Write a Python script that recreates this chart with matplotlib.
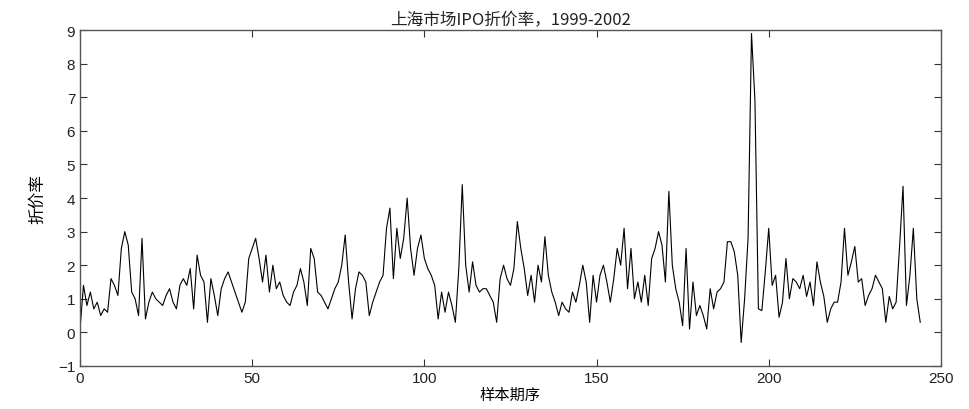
import numpy as np
import matplotlib
matplotlib.use('Agg')
import matplotlib.pyplot as plt

plt.rcParams['font.family'] = ['Liberation Sans', 'Noto Sans CJK SC', 'DejaVu Sans']

# IPO underpricing ratio
rate = [
    0.1, 1.4, 0.8, 1.2, 0.7, 0.9, 0.5, 0.7, 0.6, 1.6,
    1.4, 1.1, 2.5, 3.0, 2.6, 1.2, 1.0, 0.5, 2.8, 0.4,
    0.9, 1.2, 1.0, 0.9, 0.8, 1.1, 1.3, 0.9, 0.7, 1.4,
    1.6, 1.4, 1.9, 0.7, 2.3, 1.7, 1.5, 0.3, 1.6, 1.1,
    0.5, 1.3, 1.6, 1.8, 1.5, 1.2, 0.9, 0.6, 0.9, 2.2,
    2.5, 2.8, 2.2, 1.5, 2.3, 1.2, 2.0, 1.3, 1.5, 1.1,
    0.9, 0.8, 1.2, 1.4, 1.9, 1.5, 0.8, 2.5, 2.2, 1.2,
    1.1, 0.9, 0.7, 1.0, 1.3, 1.5, 2.0, 2.9, 1.5, 0.4,
    1.3, 1.8, 1.7, 1.5, 0.5, 0.9, 1.2, 1.5, 1.7, 3.1,
    3.7, 1.6, 3.1, 2.2, 2.8, 4.0, 2.5, 1.7, 2.5, 2.9,
    2.2, 1.9, 1.7, 1.4, 0.4, 1.2, 0.6, 1.2, 0.8, 0.3,
    1.9, 4.4, 2.0, 1.2, 2.1, 1.4, 1.2, 1.3, 1.3, 1.1,
    0.9, 0.3, 1.6, 2.0, 1.6, 1.4, 1.9, 3.3, 2.5, 1.9,
    1.1, 1.7, 0.9, 2.0, 1.5, 2.85, 1.7, 1.2, 0.9, 0.5,
    0.9, 0.7, 0.6, 1.2, 0.9, 1.4, 2.0, 1.5, 0.3, 1.7,
    0.9, 1.7, 2.0, 1.5, 0.9, 1.6, 2.5, 2.0, 3.1, 1.3,
    2.5, 1.0, 1.5, 0.9, 1.7, 0.8, 2.2, 2.5, 3.0, 2.6,
    1.5, 4.2, 2.0, 1.3, 0.9, 0.2, 2.5, 0.1, 1.5, 0.5,
    0.8, 0.5, 0.1, 1.3, 0.7, 1.2, 1.3, 1.5, 2.7, 2.7,
    2.4, 1.7, -0.3, 1.0, 2.8, 8.9, 6.9, 0.7, 0.65, 1.8,
    3.1, 1.4, 1.7, 0.45, 0.9, 2.2, 1.0, 1.6, 1.5, 1.3,
    1.7, 1.07, 1.5, 0.8, 2.1, 1.5, 1.07, 0.3, 0.7, 0.9,
    0.9, 1.5, 3.1, 1.7, 2.1, 2.56, 1.5, 1.6, 0.8, 1.1,
    1.3, 1.7, 1.5, 1.3, 0.3, 1.07, 0.7, 0.9, 2.56, 4.35,
    0.8, 1.7, 3.1, 1.0, 0.3,
]
x_ticks = [0, 50, 100, 150, 200, 250]
y_ticks = list(range(-1, 10))

fig = plt.figure(figsize=(9.7, 4.1), dpi=100)
ax = fig.add_axes([0.0825, 0.105, 0.8875, 0.819])

ax.plot(np.arange(len(rate)), rate, color='black', linewidth=0.8)

ax.set_xlim(0, 250)
ax.set_ylim(-1, 9)
ax.set_xticks(x_ticks)
ax.set_yticks(y_ticks)
ax.tick_params(direction='in', top=True, right=True, length=5,
               labelsize=11, color='#333333', labelcolor='#222222')
for s in ax.spines.values():
    s.set_color('#555555')
    s.set_linewidth(1.0)

ax.set_title('上海市场IPO折价率，1999-2002', fontsize=12, color='#222222',
             family=['Noto Sans CJK SC', 'DejaVu Sans'], pad=4)
ax.set_xlabel('样本期序', fontsize=11, family=['Noto Sans CJK SC', 'DejaVu Sans'],
              labelpad=1)
ax.set_ylabel('折价率', fontsize=12, family=['Noto Sans CJK SC', 'DejaVu Sans'],
              labelpad=8)

fig.savefig('out.png', dpi=100)
